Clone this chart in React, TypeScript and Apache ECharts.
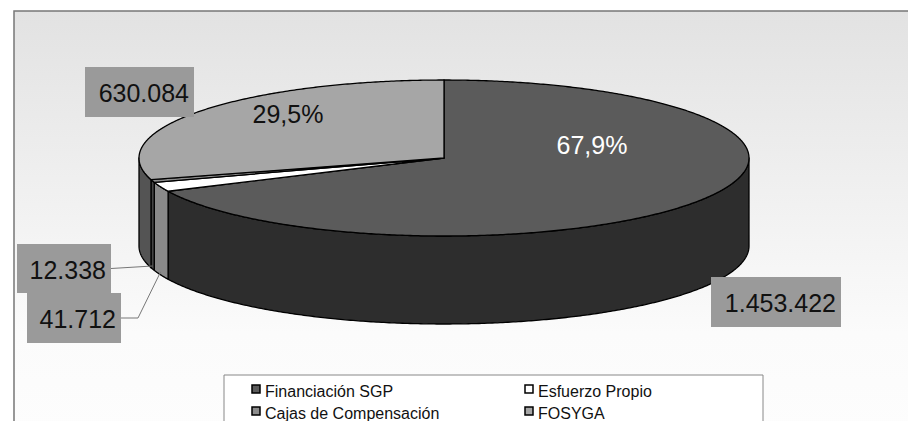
import React, { useEffect, useRef } from "react";
import * as echarts from "echarts";

// Funding sources and amounts (slice order, clockwise from 12 o'clock)
const categories = ["Financiación SGP", "Esfuerzo Propio", "Cajas de Compensación", "FOSYGA"];
const amounts = [1453422, 41712, 12338, 630084];
// Shares printed on the two large slices (null = not printed)
const shareLabels: (number | null)[] = [67.9, null, null, 29.5];

// Styling
const topColors = ["#5b5b5b", "#ffffff", "#8c8c8c", "#a6a6a6"];
const sideColors = ["#2d2d2d", "#8a8a8a", "#454545", "#545454"];
const FONT = '"Liberation Sans", Arial, Helvetica, sans-serif';

// Ellipse geometry of the tilted pie
const CX = 444;
const CY = 158;
const RX = 305;
const RY = 78;
const DEPTH = 88;

// Layout of the amount boxes and share texts, per slice
const amountBoxes = [
  { x: 711, y: 277, w: 130, h: 50 },
  { x: 27, y: 293, w: 94, h: 50 },
  { x: 17, y: 244, w: 94, h: 49 },
  { x: 85, y: 67, w: 109, h: 50 },
];
const sharePos = [
  { x: 592, y: 145, color: "#ffffff" },
  null,
  null,
  { x: 288, y: 114, color: "#111111" },
];

const fmtThousands = (v: number) => String(v).replace(/\B(?=(\d{3})+(?!\d))/g, ".");
const fmtShare = (v: number) => v.toFixed(1).replace(".", ",") + "%";

const rad = (d: number) => (d * Math.PI) / 180;
const rim = (t: number, dy = 0): [number, number] => [
  CX + RX * Math.cos(rad(t)),
  CY + RY * Math.sin(rad(t)) + dy,
];
const arc = (a: number, b: number, dy = 0) => {
  const pts: [number, number][] = [];
  const n = Math.max(2, Math.ceil(Math.abs(b - a) / 0.5));
  for (let i = 0; i <= n; i++) pts.push(rim(a + ((b - a) * i) / n, dy));
  return pts;
};

export default function App() {
  const ref = useRef<HTMLDivElement>(null);

  useEffect(() => {
    document.body.style.margin = "0";
    const chart = echarts.init(ref.current!, null, { renderer: "svg" });

    const total = amounts.reduce((s, v) => s + v, 0);
    const slices: { start: number; end: number }[] = [];
    let acc = -90;
    amounts.forEach((v) => {
      const span = (v / total) * 360;
      slices.push({ start: acc, end: acc + span });
      acc += span;
    });

    const renderItem = (params: any) => {
      const i = params.dataIndex;
      const { start, end } = slices[i];
      const children: any[] = [];
      const outline = { stroke: "#000", lineWidth: 1.3, lineJoin: "round" };

      // front wall (only the part facing the viewer: 0..180 deg)
      const a = Math.max(start, 0);
      const b = Math.min(end, 180);
      if (b > a) {
        const pts = [...arc(a, b), ...arc(b, a, DEPTH)];
        children.push({
          type: "polygon",
          z2: 1,
          shape: { points: pts },
          style: { fill: sideColors[i], ...outline },
        });
      }

      // top face
      children.push({
        type: "polygon",
        z2: 2,
        shape: { points: [[CX, CY], ...arc(start, end)] },
        style: { fill: topColors[i], ...outline },
      });

      // share text
      const sp = sharePos[i];
      const share = shareLabels[i];
      if (sp && share != null) {
        children.push({
          type: "text",
          z2: 5,
          style: {
            text: fmtShare(share),
            x: sp.x,
            y: sp.y,
            fill: sp.color,
            font: `25px ${FONT}`,
            align: "center",
            verticalAlign: "middle",
            textAlign: "center",
            textVerticalAlign: "middle",
          },
        });
      }

      // amount box
      const box = amountBoxes[i];
      const mid = (start + end) / 2;
      if (i === 1 || i === 2) {
        const [ax, ay] = rim(mid, DEPTH - 3);
        const pts: [number, number][] =
          i === 1
            ? [[box.x + box.w, box.y + box.h / 2], [box.x + box.w + 17, box.y + box.h / 2], [ax, ay]]
            : [[box.x + box.w, box.y + box.h / 2], [ax, ay]];
        children.push({
          type: "polyline",
          z2: 3,
          shape: { points: pts },
          style: { stroke: "#777", lineWidth: 1, fill: null },
        });
      }
      children.push({
        type: "rect",
        z2: 4,
        shape: { x: box.x, y: box.y, width: box.w, height: box.h },
        style: { fill: "#9a9a9a" },
      });
      children.push({
        type: "text",
        z2: 5,
        style: {
          text: fmtThousands(amounts[i]),
          x: box.x + box.w - 5,
          y: box.y + box.h / 2 + 1,
          fill: "#111",
          font: `25px ${FONT}`,
          align: "right",
          verticalAlign: "middle",
          textAlign: "right",
          textVerticalAlign: "middle",
        },
      });

      return { type: "group", children };
    };

    // Legend drawn as a two-column box
    const legendCols = [252, 525];
    const legendRows = [391, 413];
    const legendItems: any[] = [];
    categories.forEach((name, i) => {
      const x = legendCols[i % 2];
      const y = legendRows[Math.floor(i / 2)];
      legendItems.push({
        type: "rect",
        shape: { x, y: y - 6, width: 8, height: 8 },
        style: { fill: topColors[i], stroke: "#000", lineWidth: 1.5 },
      });
      legendItems.push({
        type: "text",
        style: {
          text: name,
          x: x + 13,
          y: y,
          fill: "#111",
          font: `16px ${FONT}`,
          align: "left",
          verticalAlign: "middle",
          textAlign: "left",
          textVerticalAlign: "middle",
        },
      });
    });

    chart.setOption({
      animation: false,
      graphic: [
        {
          type: "rect",
          z: -10,
          shape: { x: 14, y: 11, width: 1000, height: 520 },
          style: {
            fill: new echarts.graphic.LinearGradient(0, 0, 0, 1, [
              { offset: 0, color: "#e2e2e2" },
              { offset: 0.62, color: "#fbfbfb" },
              { offset: 1, color: "#ffffff" },
            ]),
            stroke: "#777",
            lineWidth: 1.5,
          },
        },
        {
          type: "rect",
          z: -5,
          shape: { x: 224, y: 375, width: 539, height: 80 },
          style: { fill: "#ffffff", stroke: "#888", lineWidth: 1 },
        },
        { type: "group", z: -4, children: legendItems },
      ],
      series: [
        {
          type: "custom",
          coordinateSystem: "none",
          renderItem,
          data: amounts.map((v, i) => ({ name: categories[i], value: [i, v] })),
        },
      ],
    });

    return () => chart.dispose();
  }, []);

  return <div ref={ref} style={{ width: 908, height: 421 }} />;
}
